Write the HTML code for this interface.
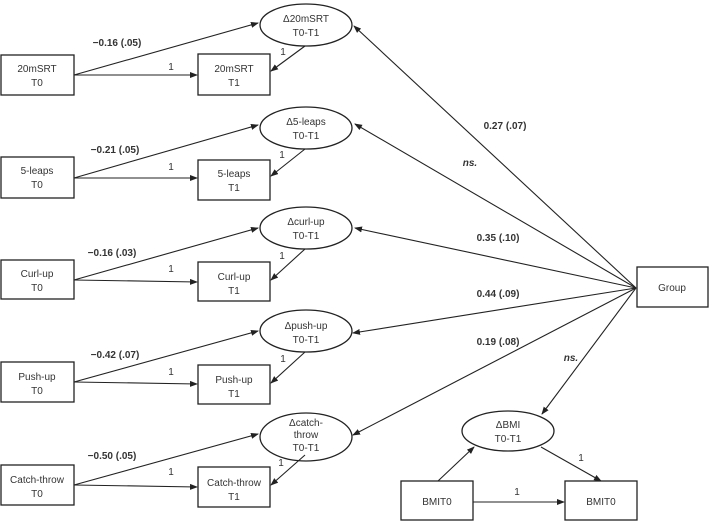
<!DOCTYPE html>
<html><head><meta charset="utf-8"><style>
html,body{margin:0;padding:0;background:#fff;}
svg{display:block;font-family:"Liberation Sans",sans-serif;}
text{fill:#333;font-size:10px;text-anchor:middle;}
.b{font-weight:bold;}
</style></head><body>
<svg width="709" height="522" viewBox="0 0 709 522" xmlns="http://www.w3.org/2000/svg">
<defs><marker id="a" markerWidth="8" markerHeight="8" refX="7" refY="3" orient="auto" markerUnits="userSpaceOnUse"><path d="M0,0 L8,3 L0,6 z" fill="#222"/></marker></defs>
<g stroke="#222" stroke-width="1.3" fill="#fff">
<!-- rows -->
<rect x="1" y="55" width="73" height="40"/><rect x="198" y="54" width="72" height="41"/><ellipse cx="306" cy="25" rx="46" ry="21"/>
<rect x="1" y="157" width="73" height="41"/><rect x="198" y="160" width="72" height="40"/><ellipse cx="306" cy="128" rx="46" ry="21"/>
<rect x="1" y="260" width="73" height="39"/><rect x="198" y="262" width="72" height="39"/><ellipse cx="306" cy="228" rx="46" ry="21"/>
<rect x="1" y="362" width="73" height="40"/><rect x="198" y="365" width="72" height="39"/><ellipse cx="306" cy="331" rx="46" ry="21"/>
<rect x="1" y="465" width="73" height="40"/><rect x="198" y="467" width="72" height="40"/><ellipse cx="306" cy="437" rx="46" ry="24"/>
<rect x="637" y="267" width="71" height="40"/>
<ellipse cx="508" cy="431" rx="46" ry="20"/>
<rect x="401" y="481" width="72" height="39"/><rect x="565" y="481" width="72" height="39"/>
</g>
<g stroke="#222" stroke-width="1.1" fill="none" marker-end="url(#a)">
<line x1="74" y1="75" x2="258" y2="23"/><line x1="74" y1="75" x2="197" y2="75"/><line x1="305" y1="46" x2="271" y2="71"/>
<line x1="74" y1="178" x2="258" y2="125"/><line x1="74" y1="178" x2="197" y2="178"/><line x1="305" y1="149" x2="271" y2="176"/>
<line x1="74" y1="280" x2="258" y2="228"/><line x1="74" y1="280" x2="197" y2="282"/><line x1="305" y1="249" x2="271" y2="280"/>
<line x1="74" y1="382" x2="258" y2="331"/><line x1="74" y1="382" x2="197" y2="384"/><line x1="305" y1="352" x2="271" y2="383"/>
<line x1="74" y1="485" x2="258" y2="434"/><line x1="74" y1="485" x2="197" y2="487"/><line x1="305" y1="455" x2="271" y2="485"/>
<line x1="636" y1="288" x2="354" y2="26"/>
<line x1="636" y1="288" x2="355" y2="124"/>
<line x1="636" y1="288" x2="355" y2="228"/>
<line x1="636" y1="288" x2="353" y2="333"/>
<line x1="636" y1="288" x2="353" y2="435"/>
<line x1="636" y1="288" x2="542" y2="414"/>
<line x1="438" y1="481" x2="474" y2="447"/>
<line x1="473" y1="502" x2="564" y2="502"/>
<line x1="541" y1="447" x2="601" y2="481"/>
</g>
<text x="37" y="72">20mSRT</text><text x="37" y="86">T0</text>
<text x="234" y="72">20mSRT</text><text x="234" y="86">T1</text>
<text x="306" y="22">Δ20mSRT</text><text x="306" y="36">T0-T1</text>
<text x="37" y="174">5-leaps</text><text x="37" y="188">T0</text>
<text x="234" y="177">5-leaps</text><text x="234" y="191">T1</text>
<text x="306" y="125">Δ5-leaps</text><text x="306" y="139">T0-T1</text>
<text x="37" y="277">Curl-up</text><text x="37" y="291">T0</text>
<text x="234" y="280">Curl-up</text><text x="234" y="294">T1</text>
<text x="306" y="225">Δcurl-up</text><text x="306" y="239">T0-T1</text>
<text x="37" y="380">Push-up</text><text x="37" y="394">T0</text>
<text x="234" y="383">Push-up</text><text x="234" y="397">T1</text>
<text x="306" y="329">Δpush-up</text><text x="306" y="343">T0-T1</text>
<text x="37" y="483">Catch-throw</text><text x="37" y="497">T0</text>
<text x="234" y="486">Catch-throw</text><text x="234" y="500">T1</text>
<text x="306" y="426">Δcatch-</text><text x="306" y="438">throw</text><text x="306" y="451">T0-T1</text>
<text x="672" y="291">Group</text>
<text x="508" y="428">ΔBMI</text><text x="508" y="442">T0-T1</text>
<text x="437" y="505">BMIT0</text><text x="601" y="505">BMIT0</text>
<text class="b" x="117" y="46">−0.16 (.05)</text><text x="171" y="70">1</text><text x="283" y="55">1</text>
<text class="b" x="115" y="153">−0.21 (.05)</text><text x="171" y="170">1</text><text x="282" y="158">1</text>
<text class="b" x="112" y="256">−0.16 (.03)</text><text x="171" y="272">1</text><text x="282" y="259">1</text>
<text class="b" x="115" y="358">−0.42 (.07)</text><text x="171" y="375">1</text><text x="283" y="362">1</text>
<text class="b" x="112" y="459">−0.50 (.05)</text><text x="171" y="475">1</text><text x="281" y="466">1</text>
<text class="b" x="505" y="129">0.27 (.07)</text>
<text class="b" x="470" y="166" font-style="italic">ns.</text>
<text class="b" x="498" y="241">0.35  (.10)</text>
<text class="b" x="498" y="297">0.44 (.09)</text>
<text class="b" x="498" y="345">0.19 (.08)</text>
<text class="b" x="571" y="361" font-style="italic">ns.</text>
<text x="581" y="461">1</text>
<text x="517" y="495">1</text>
</svg>
</body></html>
